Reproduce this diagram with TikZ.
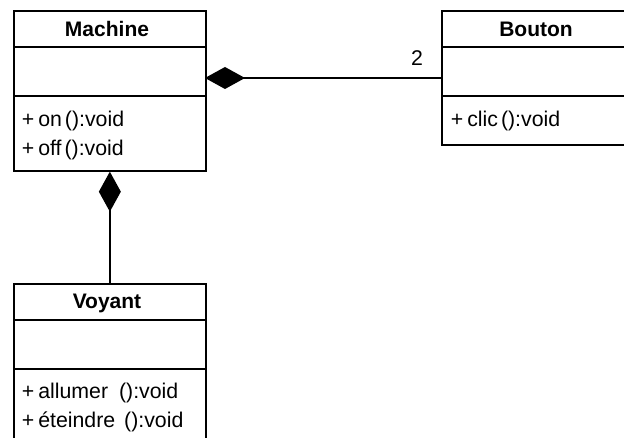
\documentclass[tikz,border=0pt]{standalone}
\usepackage{fontspec}
\setmainfont{Liberation Sans}
\usetikzlibrary{arrows.meta}
\begin{document}
\begin{tikzpicture}[x=1pt,y=-1pt,line width=1.7pt,
  classbox/.style={draw,anchor=north west,minimum width=192pt,inner sep=0pt},
  title/.style={font=\fontsize{21}{24}\selectfont\bfseries,inner sep=0pt,anchor=base},
  member/.style={font=\fontsize{21.3}{24}\selectfont,anchor=base west,inner sep=0pt},
  comp/.style={-{Diamond[length=40pt,width=22pt,fill=black]}}]
\useasboundingbox (0,0) rectangle (624,438);
\clip (0,0) rectangle (624,438);
% Machine
\node[classbox,minimum height=160pt] (machine) at (13,10) {};
\draw (13,47) -- (205,47);
\draw (13,96) -- (205,96);
\node[title] (machineT) at (107,37) {Machine};
\node[member] (m1) at (21,127) {+\hspace{4pt}on\hspace{3pt}():void};
\node[member] (m2) at (21,156) {+\hspace{4pt}off\hspace{3pt}():void};
% Bouton
\node[classbox,minimum width=210pt,minimum height=134pt] (bouton) at (441,10) {};
\draw (441,47) -- (660,47);
\draw (441,96) -- (660,96);
\node[title] (boutonT) at (536,37) {Bouton};
\node[member] (b1) at (450,127) {+\hspace{4pt}clic\hspace{3pt}():void};
% Voyant
\node[classbox,minimum height=180pt] (voyant) at (13,283) {};
\draw (13,320) -- (205,320);
\draw (13,369) -- (205,369);
\node[title] (voyantT) at (107,309) {Voyant};
\node[member] (v1) at (21,399) {+\hspace{4pt}allumer\hspace{11pt}():void};
\node[member] (v2) at (21,427) {+\hspace{4pt}éteindre\hspace{9pt}():void};
% connectors
\coordinate (bw) at (441,78);
\coordinate (me) at (205,78);
\draw[comp] (bw) -- (me);
\node[font=\fontsize{21.3}{24}\selectfont,inner sep=0pt,anchor=base] (mult) at (417,66) {2};
\draw[comp] (voyant.north) -- (machine.south);
\end{tikzpicture}
\end{document}
